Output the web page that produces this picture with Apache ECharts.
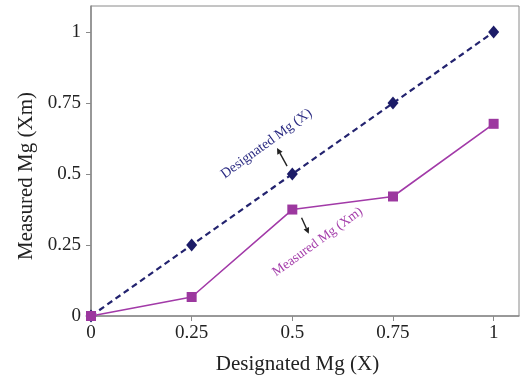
<!DOCTYPE html>
<html>
<head>
<meta charset="utf-8">
<script src="https://cdn.jsdelivr.net/npm/echarts@6/dist/echarts.min.js"></script>
<style>
  html, body { margin: 0; padding: 0; background: #fff; }
  #chart { width: 520px; height: 380px; }
</style>
</head>
<body>
<div id="chart"></div>
<script>
// data
const xValues = [0, 0.25, 0.5, 0.75, 1];
const designated = [0, 0.25, 0.5, 0.75, 1];
const measured = [0, 0.067, 0.375, 0.421, 0.677];
const tickValues = [0, 0.25, 0.5, 0.75, 1];

const navy = "#23236f";
const magenta = "#a23aa8";
const font = "Liberation Serif";

const chart = echarts.init(document.getElementById("chart"));

const option = {
  animation: false,
  grid: {
    left: 91, right: 1, top: 6, bottom: 63,
    show: true, borderColor: "#8a8a8a", borderWidth: 1,
  },
  xAxis: {
    type: "value",
    min: 0, max: 1.063,
    name: "Designated Mg (X)",
    nameLocation: "middle",
    nameGap: 38,
    nameTextStyle: { fontFamily: font, fontSize: 21, color: "#222", padding: [0, 15, 0, 0] },
    axisLine: { show: true, lineStyle: { color: "#8a8a8a", width: 1.5 } },
    axisTick: { show: true, length: 5, customValues: tickValues, lineStyle: { color: "#8a8a8a" } },
    axisLabel: {
      customValues: tickValues,
      fontFamily: font, fontSize: 19, color: "#222", margin: 8,
      formatter: (v) => String(v),
    },
    splitLine: { show: false },
  },
  yAxis: {
    type: "value",
    min: 0, max: 1.092,
    name: "Measured Mg (Xm)",
    nameLocation: "middle",
    nameGap: 53,
    nameTextStyle: { fontFamily: font, fontSize: 21, color: "#222", padding: [0, 30, 0, 0] },
    axisLine: { show: true, lineStyle: { color: "#8a8a8a", width: 1.5 } },
    axisTick: { show: true, length: 5, customValues: tickValues, lineStyle: { color: "#8a8a8a" } },
    axisLabel: {
      customValues: tickValues,
      fontFamily: font, fontSize: 19, color: "#222", margin: 10,
      formatter: (v) => String(v),
    },
    splitLine: { show: false },
  },
  series: [
    {
      name: "Designated Mg (X)",
      type: "line",
      data: xValues.map((x, i) => [x, designated[i]]),
      symbol: "diamond",
      symbolSize: [11, 13],
      itemStyle: { color: "#1c1c68" },
      lineStyle: { color: navy, width: 2.2, type: [6, 4] },
      z: 2,
    },
    {
      name: "Measured Mg (Xm)",
      type: "line",
      data: xValues.map((x, i) => [x, measured[i]]),
      symbol: "rect",
      symbolSize: 10,
      itemStyle: { color: "#9c389f" },
      lineStyle: { color: magenta, width: 1.6 },
      z: 3,
    },
  ],
};
chart.setOption(option);

// annotations placed in data coordinates
function px(p) { return chart.convertToPixel({ gridIndex: 0 }, p); }
function arrow(from, to, color) {
  const a = px(from), b = px(to);
  const ang = Math.atan2(b[1] - a[1], b[0] - a[0]);
  const L = 6, W = 3;
  const bx = b[0] - L * Math.cos(ang), by = b[1] - L * Math.sin(ang);
  return [
    { type: "line", shape: { x1: a[0], y1: a[1], x2: bx, y2: by }, style: { stroke: color, lineWidth: 1.4 } },
    { type: "polygon", shape: { points: [
      b,
      [bx + W * Math.sin(ang), by - W * Math.cos(ang)],
      [bx - W * Math.sin(ang), by + W * Math.cos(ang)],
    ] }, style: { fill: color } },
  ];
}
function label(text, at, color, size) {
  const p = px(at);
  return {
    type: "text", x: p[0], y: p[1], rotation: 36 * Math.PI / 180,
    style: { text: text, fill: color, font: size + "px " + font, align: "center", verticalAlign: "middle" },
  };
}
chart.setOption({
  graphic: [
    label("Designated Mg (X)", [0.436, 0.607], "#2a2a82", 14),
    label("Measured Mg (Xm)", [0.563, 0.261], "#a53fab", 13.5),
    ...arrow([0.487, 0.528], [0.462, 0.592], "#222"),
    ...arrow([0.523, 0.346], [0.541, 0.29], "#222"),
  ],
});
</script>
</body>
</html>
